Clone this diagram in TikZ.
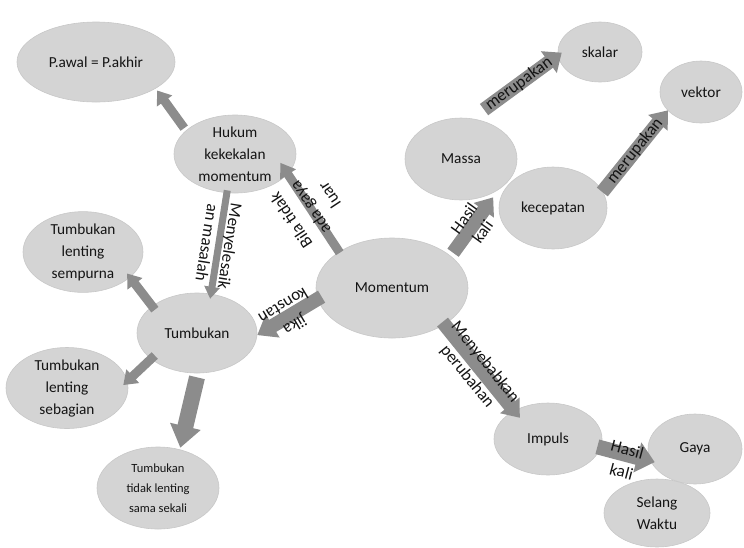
\documentclass[tikz,border=0pt]{standalone}
\usepackage{fontspec}
\setmainfont{Carlito}
\usetikzlibrary{arrows.meta,calc,shapes.geometric}

\definecolor{bubble}{RGB}{212,212,212}
\definecolor{bubbleedge}{RGB}{200,200,200}
\definecolor{shaft}{RGB}{140,140,140}
\definecolor{ink}{RGB}{20,20,20}

\tikzset{
  concept/.style={ellipse, fill=bubble, draw=bubbleedge, line width=0.6pt,
    inner sep=0pt, align=center, text=ink, font=\fontsize{15.3}{22}\selectfont},
  fat/.style args={#1/#2/#3}{draw=shaft, line width=#1pt,
    -{Triangle[length=#3pt, width=#2pt]}},
  lbl/.style={sloped, allow upside down, align=center, text=ink,
    inner sep=0pt, font=\fontsize{17}{23}\selectfont},
}

\begin{document}
\begin{tikzpicture}[x=1pt,y=-1pt]
\useasboundingbox (0,0) rectangle (744,547);

% concepts
\node[concept, minimum width=158pt, minimum height=80pt] (pawal) at (96,62) {P.awal = P.akhir};
\node[concept, minimum width=122pt, minimum height=78pt] (hukum) at (235,154) {Hukum\\kekekalan\\momentum};
\node[concept, minimum width=84pt, minimum height=60pt] (skalar) at (600,52) {skalar};
\node[concept, minimum width=82pt, minimum height=62pt] (vektor) at (701,92) {vektor};
\node[concept, minimum width=112pt, minimum height=82pt] (massa) at (461,159) {Massa};
\node[concept, minimum width=108pt, minimum height=82pt] (kecepatan) at (553,208) {kecepatan};
\node[concept, minimum width=152pt, minimum height=100pt] (momentum) at (392,288) {Momentum};
\node[concept, minimum width=120pt, minimum height=80pt] (sempurna) at (83,252) {Tumbukan\\lenting\\sempurna};
\node[concept, minimum width=120pt, minimum height=80pt] (tumbukan) at (197,333) {Tumbukan};
\node[concept, minimum width=122pt, minimum height=80pt] (sebagian) at (67,388) {Tumbukan\\lenting\\sebagian};
\node[concept, minimum width=122pt, minimum height=82pt, font=\fontsize{12.5}{20}\selectfont] (tidak) at (158,488) {Tumbukan\\tidak lenting\\sama sekali};
\node[concept, minimum width=108pt, minimum height=72pt] (impuls) at (548,439) {Impuls};
\node[concept, minimum width=94pt, minimum height=70pt] (gaya) at (695,449) {Gaya};
\node[concept, minimum width=106pt, minimum height=68pt] (selang) at (657,513) {Selang\\Waktu};

% block arrows
\draw[fat=9/18/13] ($(hukum.center)!1.058!(hukum.153)$) -- ($(pawal.center)!1.044!(pawal.-25)$);
\draw[fat=9/18/14] ($(momentum.center)!0.98!(momentum.146)$)
  -- node[lbl]{Bila tidak\\ada gaya\\luar} ($(hukum.center)!0.773!(hukum.-11)$);
\draw[fat=7/15/12] ($(hukum.center)!0.934!(hukum.-102)$)
  -- node[lbl]{Menyelesaik\\an masalah} ($(tumbukan.center)!0.877!(tumbukan.69)$);
\draw[fat=14/26/18] ($(momentum.center)!0.939!(momentum.187)$)
  -- node[lbl]{jika\\konstan} ($(tumbukan.center)!1.0!(tumbukan.-2)$);
\draw[fat=14/24/16] ($(momentum.center)!1.064!(momentum.30)$)
  -- node[lbl]{Hasil\\kali} ($(massa.center)!1.09!(massa.-50)$);
\draw[fat=14/26/16] ($(massa.center)!1.264!(massa.65)$)
  -- node[lbl, pos=0.45]{merupakan} ($(skalar.center)!0.905!(skalar.181)$);
\draw[fat=14/24/16] ($(kecepatan.center)!0.987!(kecepatan.18)$)
  -- node[lbl]{merupakan} ($(vektor.center)!0.992!(vektor.209)$);
\draw[fat=14/24/16] ($(momentum.center)!0.947!(momentum.-34)$)
  -- node[lbl, pos=0.47, yshift=-3.6pt]{Menyebabkan\\perubahan} ($(impuls.center)!0.781!(impuls.143)$);
\draw[fat=15/30/18] ($(impuls.center)!0.934!(impuls.-9)$)
  -- node[lbl, yshift=-6pt]{Hasil\\kali} ($(gaya.center)!0.929!(gaya.198)$);
\draw[fat=9/18/13] ($(tumbukan.center)!0.907!(tumbukan.151)$) -- ($(sempurna.center)!0.902!(sempurna.-26)$);
\draw[fat=9/18/13] ($(tumbukan.center)!0.896!(tumbukan.208)$) -- ($(sebagian.center)!0.921!(sebagian.3)$);
\draw[fat=16/30/22] ($(tumbukan.center)!1.1!(tumbukan.-90)$) -- ($(tidak.center)!1.04!(tidak.61)$);
\end{tikzpicture}
\end{document}
